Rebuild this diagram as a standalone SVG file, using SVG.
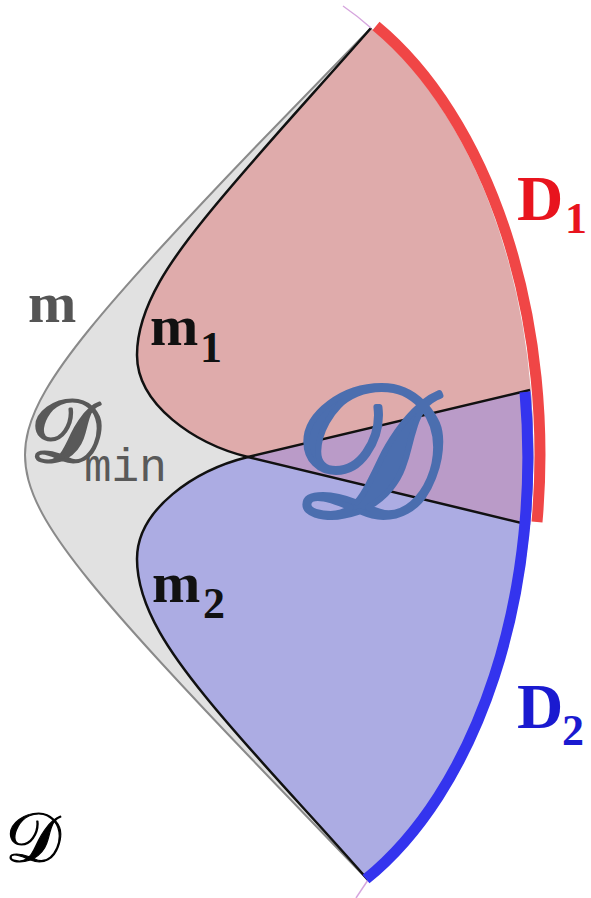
<svg xmlns="http://www.w3.org/2000/svg" width="591" height="898" viewBox="0 0 591 898">
<defs>
<clipPath id="lens"><path d="M371,28 C331.2,68.7 291.6,109.3 252.6,150 C220.6,183.3 189.1,216.7 158.6,250 C134.2,276.7 110.4,303.3 88.8,330 C72.6,350 57.6,370 45.9,390 C38.1,403.3 32,416.7 28.4,430 C26.2,438.3 25,446.7 25,455 C25,463.3 26.2,471.7 28.4,480 C32,493.3 38.1,506.7 45.9,520 C57.6,540 72.6,560 88.8,580 C110.4,606.7 134.2,633.3 158.6,660 C189.1,693.3 220.6,726.7 252.6,760 C291,800 329,840 368,880 A300,478 0 0 0 371,28 Z"/></clipPath>
<style>
.lbl{font-family:"Liberation Serif","Times New Roman",serif;font-weight:bold}
.cal{font-family:"DejaVu Serif","DejaVu Sans","Noto Sans",serif;stroke-linejoin:round}
.blk{fill:none;stroke:#111;stroke-width:2.5;stroke-linejoin:round}
</style>
</defs>
<rect width="591" height="898" fill="#fff"/>
<g id="regions">
<g id="d-min"><path fill="#e1e1e1" d="M371,28 C331.2,68.7 291.6,109.3 252.6,150 C220.6,183.3 189.1,216.7 158.6,250 C134.2,276.7 110.4,303.3 88.8,330 C72.6,350 57.6,370 45.9,390 C38.1,403.3 32,416.7 28.4,430 C26.2,438.3 25,446.7 25,455 C25,463.3 26.2,471.7 28.4,480 C32,493.3 38.1,506.7 45.9,520 C57.6,540 72.6,560 88.8,580 C110.4,606.7 134.2,633.3 158.6,660 C189.1,693.3 220.6,726.7 252.6,760 C291,800 329,840 368,880 A300,478 0 0 0 371,28 Z"/></g>
<g clip-path="url(#lens)">
<g id="d1-region"><path fill="#dfabab" d="M371,28 L700,-100 L700,560 L600,541.8 L248,457 C195,444 137,405 137,355 C137,305 175,255 205,218 C250,162 316,91 371,28 Z"/></g>
<g id="d2-region"><path fill="#acace3" d="M248,457 L600,373.4 L700,373 L700,1000 L368,880 C314,818 250,752 205,696 C175,659 137,609 137,559 C137,509 195,470 248,457 Z"/></g>
<g id="overlap"><path fill="#ba9bc8" d="M248,457 L600,373.4 L600,541.8 Z"/></g>
</g>
</g>
<g id="connectors">
<path id="m" fill="none" stroke="#8a8a8a" stroke-width="2" d="M371,28 C331.2,68.7 291.6,109.3 252.6,150 C220.6,183.3 189.1,216.7 158.6,250 C134.2,276.7 110.4,303.3 88.8,330 C72.6,350 57.6,370 45.9,390 C38.1,403.3 32,416.7 28.4,430 C26.2,438.3 25,446.7 25,455 C25,463.3 26.2,471.7 28.4,480 C32,493.3 38.1,506.7 45.9,520 C57.6,540 72.6,560 88.8,580 C110.4,606.7 134.2,633.3 158.6,660 C189.1,693.3 220.6,726.7 252.6,760 C291,800 329,840 368,880"/>
<path id="m1" class="blk" d="M371,28 C316,91 250,162 205,218 C175,255 137,305 137,355 C137,405 195,444 248,457 L530,525"/>
<path id="m2" class="blk" d="M368,880 C314,818 250,752 205,696 C175,659 137,609 137,559 C137,509 195,470 248,457 L530,390"/>
<path id="circle-top" fill="none" stroke="#d6a6de" stroke-width="1.5" d="M343,6 A300,478 0 0 1 371,28"/>
<path id="circle-bottom" fill="none" stroke="#d6a6de" stroke-width="1.5" d="M368,880 L356,898"/>
<path id="d1-arc" fill="none" stroke="#f04646" stroke-width="11" d="M376,26 A306,484 0 0 1 537,522"/>
<path id="d2-arc" fill="none" stroke="#3434ee" stroke-width="11" d="M525,392 A294,472 0 0 1 366,879"/>
</g>
<g id="labels">
<text class="lbl" x="28" y="322" font-size="58" fill="#555">m</text>
<text class="lbl" x="150" y="345" font-size="58" fill="#111">m<tspan font-size="44" x="200" y="362">1</tspan></text>
<text class="lbl" x="152" y="602" font-size="58" fill="#111">m<tspan font-size="44" x="203" y="618">2</tspan></text>
<text class="lbl" x="517" y="220" font-size="64" fill="#e8141e">D<tspan font-size="44" x="565" y="233">1</tspan></text>
<text class="lbl" x="517" y="728" font-size="64" fill="#1a1ad0">D<tspan font-size="44" x="562" y="745">2</tspan></text>
<text class="cal" x="30" y="461" font-size="88" fill="#595959" stroke="#595959" stroke-width="3">𝒟</text>
<text x="84" y="481" font-family="'Liberation Mono','Courier New',monospace" font-size="46" fill="#595959">min</text>
<text class="cal" x="292" y="516" font-size="186" fill="#4b6eaf" stroke="#4b6eaf" stroke-width="6">𝒟</text>
<text class="cal" x="5" y="862" font-size="70" fill="#000" stroke="#000" stroke-width="1.2">𝒟</text>
</g>
</svg>
